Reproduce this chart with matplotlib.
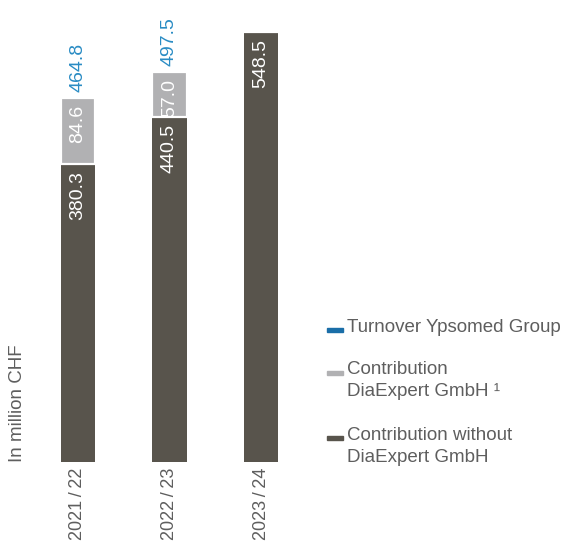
import matplotlib.pyplot as plt
from matplotlib.patches import Rectangle

plt.rcParams['font.family'] = ['Liberation Sans', 'DejaVu Sans']

# data
years = ['2021\u2009/\u200922', '2022\u2009/\u200923', '2023\u2009/\u200924']
without_diaexpert = [380.3, 440.5, 548.5]
diaexpert = [84.6, 57.0, 0.0]
totals = [464.8, 497.5, 548.5]

dark = '#58544c'
grey = '#b1b1b3'
blue = '#2a8cc4'
blue_key = '#1a6ea8'
text_col = '#5e5e5e'

W, H = 569, 543
fig = plt.figure(figsize=(W / 100, H / 100), dpi=100)

# bar axes: baseline sits 81 px above the bottom edge
ax = fig.add_axes([40 / W, 81 / H, 260 / W, 462 / H])
x = list(range(len(years)))
bw = 0.372
ax.bar(x, without_diaexpert, width=bw, color=dark)
ax.bar(x, diaexpert, width=bw, bottom=without_diaexpert, color=grey,
       edgecolor='white', linewidth=1.6)
ax.set_xlim(-0.415, 2.426)
ax.set_ylim(0, 589.3)

for i in x:
    ax.annotate(f'{without_diaexpert[i]:.1f}', (i, without_diaexpert[i]),
                xytext=(0, -5), textcoords='offset points', rotation=90,
                ha='center', va='top', color='white', fontsize=14)
    if diaexpert[i] > 0:
        ax.annotate(f'{diaexpert[i]:.1f}', (i, totals[i]),
                    xytext=(0, -5), textcoords='offset points', rotation=90,
                    ha='center', va='top', color='white', fontsize=14)
        ax.annotate(f'{totals[i]:.1f}', (i, totals[i]),
                    xytext=(0, 4), textcoords='offset points', rotation=90,
                    ha='center', va='bottom', color=blue, fontsize=14)

ax.set_xticks(x)
ax.set_xticklabels(years, rotation=90, va='top', ha='center',
                   fontsize=13, color=text_col)
ax.tick_params(axis='x', length=0, pad=4)
ax.set_yticks([])
for s in ax.spines.values():
    s.set_visible(False)

# overlay in pixel coordinates for legend + unit label
ov = fig.add_axes([0, 0, 1, 1])
ov.set_xlim(0, W)
ov.set_ylim(H, 0)
ov.axis('off')
ov.patch.set_alpha(0)

ov.text(18, 462, 'In million CHF', rotation=90, ha='center', va='bottom',
        fontsize=13.5, color=text_col)

legend = [
    (blue_key, ['Turnover Ypsomed Group'], 327),
    (grey, ['Contribution', 'DiaExpert GmbH \u00b9'], 370),
    (dark, ['Contribution without', 'DiaExpert GmbH'], 435),
]
for col, lines, y0 in legend:
    ov.add_patch(Rectangle((327, y0 + 1), 16, 4, color=col))
    for k, line in enumerate(lines):
        ov.text(347, y0 + 22 * k, line, ha='left', va='center',
                fontsize=13.5, color=text_col)

fig.savefig('out.png', dpi=100)
